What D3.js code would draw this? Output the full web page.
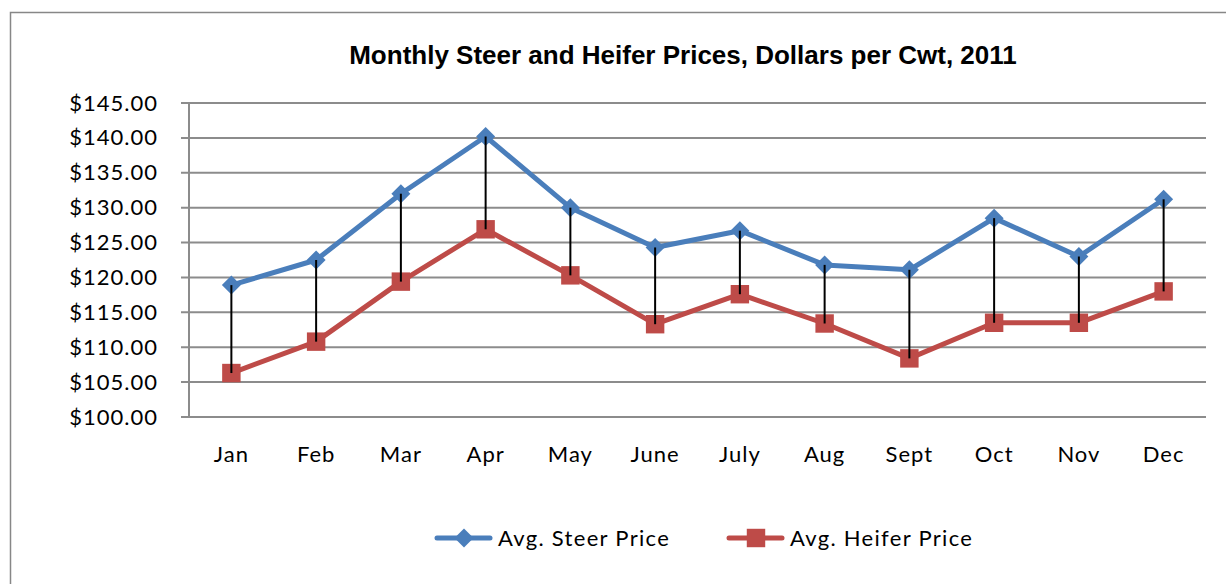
<!DOCTYPE html>
<html>
  <head>
    <meta charset="utf-8">
    <title>Monthly Steer and Heifer Prices</title>
    <script src="https://d3js.org/d3.v7.min.js"></script>
    <style>
      body { margin: 0; background: #fff; }
    </style>
  </head>
  <body>
    <svg width="1226" height="584"></svg>

    <script>
      // data
      const months = ["Jan", "Feb", "Mar", "Apr", "May", "June", "July", "Aug", "Sept", "Oct", "Nov", "Dec"];
      const steer = [118.9, 122.5, 132.0, 140.2, 130.0, 124.3, 126.7, 121.8, 121.1, 128.5, 123.0, 131.2];
      const heifer = [106.3, 110.8, 119.4, 126.9, 120.3, 113.3, 117.6, 113.4, 108.4, 113.5, 113.5, 118.0];
      const yTicks = [100, 105, 110, 115, 120, 125, 130, 135, 140, 145];

      const data = months.map((m, i) => ({ month: m, steer: steer[i], heifer: heifer[i] }));

      const width = 1226, height = 584;
      const margin = { top: 103, right: 20, bottom: 167, left: 189 };
      const innerWidth = 1206 - margin.left;
      const innerHeight = 417 - margin.top;

      const bodyFont = "Lato, 'Open Sans', sans-serif";
      const steerColor = "#4a7ebb";
      const heiferColor = "#be4b48";

      const svg = d3.select("svg")
        .attr("width", width)
        .attr("height", height);

      // chart frame (only top and left edges are inside the picture)
      svg.append("path")
        .attr("d", `M10.5,${height} V12.5 H${width}`)
        .attr("fill", "none")
        .attr("stroke", "#878787")
        .attr("stroke-width", 1.5);

      svg.append("text")
        .attr("x", 683)
        .attr("y", 64)
        .attr("text-anchor", "middle")
        .attr("font-family", "'Liberation Sans', Arial, sans-serif")
        .attr("font-weight", "bold")
        .attr("font-size", 26)
        .text("Monthly Steer and Heifer Prices, Dollars per Cwt, 2011");

      const g = svg.append("g")
        .attr("transform", `translate(${margin.left},${margin.top})`);

      const x = d3.scaleBand()
        .domain(months)
        .range([0, innerWidth]);

      const y = d3.scaleLinear()
        .domain([100, 145])
        .range([innerHeight, 0]);

      const cx = d => x(d.month) + x.bandwidth() / 2;

      // gridlines
      g.append("g")
        .selectAll("line")
        .data(yTicks)
        .join("line")
        .attr("x1", -8)
        .attr("x2", innerWidth)
        .attr("y1", d => y(d))
        .attr("y2", d => y(d))
        .attr("stroke", "#8c8c8c")
        .attr("stroke-width", 2);

      // y axis
      const yAxis = g.append("g")
        .call(d3.axisLeft(y).tickValues(yTicks).tickSize(0).tickPadding(31)
          .tickFormat(d => "$" + d3.format(".2f")(d)));
      yAxis.select(".domain").remove();
      yAxis.selectAll("text")
        .attr("font-family", bodyFont)
        .attr("font-size", 22)
        .attr("letter-spacing", 1)
        .attr("fill", "#000");

      g.append("line")
        .attr("x1", 0).attr("x2", 0)
        .attr("y1", 0).attr("y2", innerHeight)
        .attr("stroke", "#8c8c8c")
        .attr("stroke-width", 2);

      // x axis
      const xAxis = g.append("g")
        .attr("transform", `translate(0,${innerHeight})`)
        .call(d3.axisBottom(x).tickSize(0).tickPadding(29));
      xAxis.select(".domain").remove();
      xAxis.selectAll("text")
        .attr("font-family", bodyFont)
        .attr("font-size", 22)
        .attr("letter-spacing", 1)
        .attr("fill", "#000");

      const lineSteer = d3.line().x(cx).y(d => y(d.steer));
      const lineHeifer = d3.line().x(cx).y(d => y(d.heifer));

      g.append("path")
        .datum(data)
        .attr("fill", "none")
        .attr("stroke", steerColor)
        .attr("stroke-width", 5)
        .attr("stroke-linejoin", "round")
        .attr("d", lineSteer);

      g.append("path")
        .datum(data)
        .attr("fill", "none")
        .attr("stroke", heiferColor)
        .attr("stroke-width", 5)
        .attr("stroke-linejoin", "round")
        .attr("d", lineHeifer);

      const diamond = d3.symbol().type(d3.symbolDiamond2).size(230);
      const square = d3.symbol().type(d3.symbolSquare).size(340);

      g.append("g")
        .selectAll("path")
        .data(data)
        .join("path")
        .attr("d", diamond)
        .attr("transform", d => `translate(${cx(d)},${y(d.steer)})`)
        .attr("fill", steerColor);

      g.append("g")
        .selectAll("path")
        .data(data)
        .join("path")
        .attr("d", square)
        .attr("transform", d => `translate(${cx(d)},${y(d.heifer)})`)
        .attr("fill", heiferColor);

      // high-low lines, drawn on top of the markers
      g.append("g")
        .selectAll("line")
        .data(data)
        .join("line")
        .attr("x1", cx)
        .attr("x2", cx)
        .attr("y1", d => y(d.steer))
        .attr("y2", d => y(d.heifer))
        .attr("stroke", "#000")
        .attr("stroke-width", 2);

      // legend
      const legendItems = [
        { name: "Avg. Steer Price", color: steerColor, symbol: diamond, x: 435 },
        { name: "Avg. Heifer Price", color: heiferColor, symbol: square, x: 727 }
      ];

      const legend = svg.append("g").attr("class", "legend");
      legendItems.forEach(item => {
        const lg = legend.append("g").attr("transform", `translate(${item.x},538)`);
        lg.append("line")
          .attr("x1", 2).attr("x2", 55)
          .attr("stroke", item.color)
          .attr("stroke-width", 5)
          .attr("stroke-linecap", "round");
        lg.append("path")
          .attr("d", item.symbol)
          .attr("transform", "translate(29,0)")
          .attr("fill", item.color);
        lg.append("text")
          .attr("x", 63)
          .attr("dy", "0.35em")
          .attr("font-family", bodyFont)
          .attr("font-size", 22)
          .attr("letter-spacing", 1.3)
          .text(item.name);
      });
    </script>
  </body>
</html>
